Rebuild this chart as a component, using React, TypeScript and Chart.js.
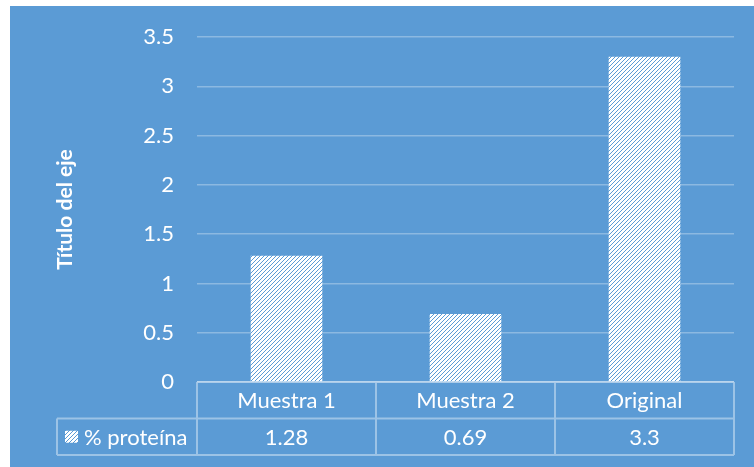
import React, { useEffect, useRef } from 'react';
import { Chart, registerables } from 'chart.js';

Chart.register(...registerables);

const categories = ['Muestra 1', 'Muestra 2', 'Original'];
const seriesName = '% proteína';
const values = [1.28, 0.69, 3.3];
const valueLabels = ['1.28', '0.69', '3.3'];
const axisTitle = 'Título del eje';
const yMin = 0;
const yMax = 3.5;
const yStep = 0.5;

const BG = '#5B9BD5';
const STRIPE = '#5B9BD5';
const FONT = 'Lato, "Liberation Sans", sans-serif';
const FONT_SIZE = 22;
const GRID = 'rgba(255,255,255,0.3)';
const TABLE_LINE = 'rgba(255,255,255,0.4)';

function makePattern(): CanvasPattern | string {
  const c = document.createElement('canvas');
  c.width = 4;
  c.height = 4;
  const g = c.getContext('2d');
  if (!g) return '#ffffff';
  g.fillStyle = '#ffffff';
  g.fillRect(0, 0, 4, 4);
  g.fillStyle = STRIPE;
  for (let y = 0; y < 4; y++) {
    for (let x = 0; x < 4; x++) {
      if ((x + y) % 4 === 3) g.fillRect(x, y, 1, 1);
    }
  }
  const p = g.createPattern(c, 'repeat');
  return p || '#ffffff';
}

export default function App() {
  const ref = useRef<HTMLCanvasElement | null>(null);

  useEffect(() => {
    document.body.style.margin = '0';
    const canvas = ref.current;
    if (!canvas) return;
    const pattern = makePattern();

    const bgPlugin = {
      id: 'bg',
      beforeDraw(chart: any) {
        const { ctx, width, height } = chart;
        ctx.save();
        ctx.fillStyle = '#ffffff';
        ctx.fillRect(0, 0, width, height);
        ctx.fillStyle = BG;
        ctx.fillRect(10, 6, width - 10, height - 6);
        ctx.restore();
      },
    };

    const tablePlugin = {
      id: 'dataTable',
      afterDraw(chart: any) {
        const { ctx, chartArea } = chart;
        const xs = chart.scales.x;
        const left = chartArea.left;
        const right = chartArea.right;
        const top = chartArea.bottom;
        const rowH = 36.5;
        const r1 = top + rowH;
        const r2 = top + 2 * rowH;
        const legendLeft = 57;
        const n = categories.length;
        const colW = (right - left) / n;

        ctx.save();
        ctx.strokeStyle = TABLE_LINE;
        ctx.lineWidth = 2;
        ctx.beginPath();
        ctx.moveTo(left, top);
        ctx.lineTo(right, top);
        ctx.moveTo(legendLeft, r1);
        ctx.lineTo(right, r1);
        ctx.moveTo(legendLeft, r2);
        ctx.lineTo(right, r2);
        ctx.moveTo(legendLeft, r1);
        ctx.lineTo(legendLeft, r2);
        for (let i = 0; i <= n; i++) {
          const x = left + i * colW;
          ctx.moveTo(x, top);
          ctx.lineTo(x, r2);
        }
        ctx.stroke();

        ctx.fillStyle = '#ffffff';
        ctx.font = `${FONT_SIZE}px ${FONT}`;
        ctx.textAlign = 'center';
        ctx.textBaseline = 'middle';
        categories.forEach((c, i) => {
          const cx = xs.getPixelForValue(i);
          ctx.fillText(c, cx, (top + r1) / 2 + 1);
          ctx.fillText(valueLabels[i], cx, (r1 + r2) / 2 + 1);
        });

        // legend key
        const ky = (r1 + r2) / 2;
        ctx.fillStyle = pattern as any;
        ctx.fillRect(65, ky - 6, 13, 12);
        ctx.fillStyle = '#ffffff';
        ctx.textAlign = 'left';
        ctx.fillText(seriesName, 84, ky + 1);
        ctx.restore();
      },
    };

    const chart = new Chart(canvas, {
      type: 'bar',
      data: {
        labels: categories,
        datasets: [
          {
            label: seriesName,
            data: values,
            backgroundColor: pattern as any,
            borderWidth: 0,
            categoryPercentage: 1,
            barPercentage: 0.4,
          },
        ],
      },
      options: {
        responsive: false,
        animation: false,
        devicePixelRatio: 1,
        layout: { padding: { left: 53, top: 37, right: 20, bottom: 85 } },
        plugins: {
          legend: { display: false },
          tooltip: { enabled: false },
        },
        scales: {
          x: {
            display: false,
          },
          y: {
            min: yMin,
            max: yMax,
            border: { display: false },
            grid: { color: GRID, lineWidth: 1.5, drawTicks: false },
            ticks: {
              stepSize: yStep,
              color: '#ffffff',
              padding: 23,
              font: { family: FONT, size: FONT_SIZE },
              callback: (v: any) => String(Number(v)),
            },
            title: {
              display: true,
              text: axisTitle,
              color: '#ffffff',
              padding: 0,
              font: { family: FONT, size: 21, weight: 'bold' },
            },
            afterFit: (s: any) => {
              s.width = 197 - 53;
            },
          },
        },
      },
      plugins: [bgPlugin, tablePlugin],
    });
    return () => chart.destroy();
  }, []);

  return <canvas ref={ref} width={754} height={467} style={{ display: 'block' }} />;
}
